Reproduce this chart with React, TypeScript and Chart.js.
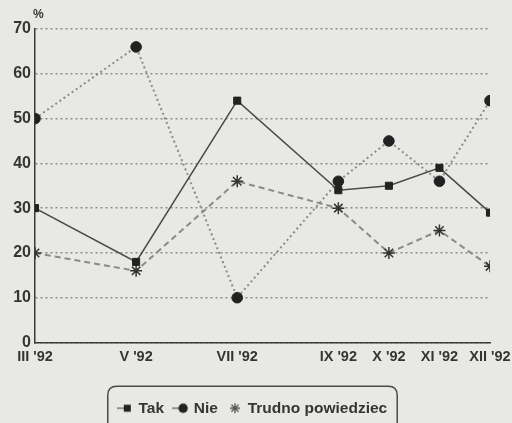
import React, { useEffect, useRef } from "react";
import { Chart, registerables } from "chart.js";

Chart.register(...registerables);

const months = [3, 5, 7, 9, 10, 11, 12];
const monthLabels = ["III '92", "V '92", "VII '92", "IX '92", "X '92", "XI '92", "XII '92"];
const takValues = [30, 18, 54, 34, 35, 39, 29];
const nieValues = [50, 66, 10, 36, 45, 36, 54];
const trudnoValues = [20, 16, 36, 30, 20, 25, 17];
const yTicks = [0, 10, 20, 30, 40, 50, 60, 70];
const seriesLabels = ["Tak", "Nie", "Trudno powiedziec"];

const FONT = "'Liberation Sans', Arial, sans-serif";
const BG = "#e8e8e5";
const TEXT = "#353535";

function legendIcon(kind: string): HTMLCanvasElement {
  const c = document.createElement("canvas");
  c.width = 16;
  c.height = 12;
  const g = c.getContext("2d") as CanvasRenderingContext2D;
  g.strokeStyle = "#777";
  g.lineWidth = 1.5;
  if (kind !== "star") {
    g.beginPath();
    g.moveTo(0, 6);
    g.lineTo(7, 6);
    g.stroke();
  }
  g.fillStyle = "#222";
  if (kind === "rect") {
    g.fillRect(7, 2.5, 7, 7);
  } else if (kind === "circle") {
    g.beginPath();
    g.arc(11, 6, 4.7, 0, Math.PI * 2);
    g.fill();
  } else {
    g.strokeStyle = "#555";
    g.lineWidth = 1.3;
    const cx = 9, cy = 6, r = 5;
    g.beginPath();
    for (let k = 0; k < 4; k++) {
      const a = (k * Math.PI) / 4;
      g.moveTo(cx - r * Math.cos(a), cy - r * Math.sin(a));
      g.lineTo(cx + r * Math.cos(a), cy + r * Math.sin(a));
    }
    g.stroke();
  }
  return c;
}

const LEGEND_SHIFT_LEFT = 16;

const bgPlugin = {
  id: "bgPlugin",
  beforeDraw(chart: any) {
    const ctx = chart.ctx;
    ctx.save();
    ctx.fillStyle = BG;
    ctx.fillRect(0, 0, chart.width, chart.height);
    ctx.restore();
    if (chart.legend) {
      const orig = chart.legend.left;
      chart.legend.left = LEGEND_SHIFT_LEFT;
      chart.$legendShift = (LEGEND_SHIFT_LEFT - orig) / 2;
    }
  },
  afterDraw(chart: any) {
    const ctx = chart.ctx;
    const area = chart.chartArea;
    ctx.save();
    ctx.fillStyle = TEXT;
    ctx.font = `bold 12px ${FONT}`;
    ctx.textAlign = "left";
    ctx.textBaseline = "middle";
    ctx.fillText("%", area.left - 2, area.top - 14);
    const hb = chart.legend && chart.legend.legendHitBoxes;
    if (hb && hb.length) {
      const shift = chart.$legendShift || 0;
      let minX = Infinity, maxX = -Infinity, cy = 0;
      hb.forEach((b: any) => {
        minX = Math.min(minX, b.left);
        maxX = Math.max(maxX, b.left + b.width);
        cy = b.top + b.height / 2;
      });
      const x0 = minX + shift - 11, x1 = maxX + shift + 10, y0 = cy - 22, y1 = cy + 40;
      const r = 9;
      ctx.strokeStyle = "#4a4a4a";
      ctx.lineWidth = 1.5;
      ctx.beginPath();
      ctx.moveTo(x0 + r, y0);
      ctx.lineTo(x1 - r, y0);
      ctx.quadraticCurveTo(x1, y0, x1, y0 + r);
      ctx.lineTo(x1, y1);
      ctx.moveTo(x0, y1);
      ctx.lineTo(x0, y0 + r);
      ctx.quadraticCurveTo(x0, y0, x0 + r, y0);
      ctx.stroke();
    }
    ctx.restore();
  },
};

export default function App() {
  const ref = useRef<HTMLCanvasElement | null>(null);
  useEffect(() => {
    document.body.style.margin = "0";
    document.body.style.background = BG;
    if (!ref.current) return;
    const mk = (arr: number[]) => months.map((m, i) => ({ x: m, y: arr[i] }));
    const icons = [legendIcon("rect"), legendIcon("circle"), legendIcon("star")];
    const chart = new Chart(ref.current, {
      type: "line",
      data: {
        datasets: [
          {
            label: seriesLabels[0],
            data: mk(takValues),
            borderColor: "#4a4a4a",
            borderWidth: 1.5,
            pointStyle: "rect",
            pointRadius: 5,
            pointBackgroundColor: "#222",
            pointBorderColor: "#222",
            pointBorderWidth: 1,
            backgroundColor: "#222",
          },
          {
            label: seriesLabels[1],
            data: mk(nieValues),
            borderColor: "#8a8a8a",
            borderWidth: 2,
            borderDash: [2, 3],
            pointStyle: "circle",
            pointRadius: 5.3,
            pointBackgroundColor: "#222",
            pointBorderColor: "#222",
            pointBorderWidth: 1,
            backgroundColor: "#222",
          },
          {
            label: seriesLabels[2],
            data: mk(trudnoValues),
            borderColor: "#8a8a8a",
            borderWidth: 2,
            borderDash: [6, 4],
            pointStyle: "star",
            pointRadius: 6,
            pointBackgroundColor: "#333",
            pointBorderColor: "#333",
            pointBorderWidth: 1.5,
            backgroundColor: "#333",
          },
        ],
      },
      options: {
        animation: false,
        responsive: false,
        layout: { padding: { top: 29, right: 22, left: 0, bottom: -3 } },
        scales: {
          x: {
            type: "linear",
            min: 3,
            max: 12,
            afterBuildTicks: (s: any) => {
              s.ticks = months.map((m) => ({ value: m }));
            },
            afterFit: (s: any) => {
              s.height = 48;
              s.paddingRight = 0;
              s.paddingLeft = 0;
            },
            ticks: {
              padding: 6,
              autoSkip: false,
              maxRotation: 0,
              color: TEXT,
              font: { family: FONT, size: 14.5, weight: "bold" },
              callback: (v: any) => {
                const i = months.indexOf(Number(v));
                return i >= 0 ? monthLabels[i] : "";
              },
            },
            grid: { display: false, drawTicks: false },
            border: { display: true, color: "#3a3a3a", width: 1.5 },
          },
          y: {
            min: 0,
            max: 70,
            afterBuildTicks: (s: any) => {
              s.ticks = yTicks.map((v) => ({ value: v }));
            },
            afterFit: (s: any) => {
              s.width = 35;
            },
            ticks: {
              padding: 4,
              color: TEXT,
              font: { family: FONT, size: 16, weight: "bold" },
            },
            grid: {
              drawTicks: false,
              color: "#8a8a8a",
              lineWidth: 1.5,
            },
            border: { display: true, color: "#3a3a3a", width: 1.5, dash: [2, 3] },
          },
        },
        plugins: {
          legend: {
            position: "bottom",
            labels: {
              usePointStyle: true,
              padding: 10,
              boxWidth: 12,
              boxHeight: 12,
              color: TEXT,
              font: { family: FONT, size: 15.5, weight: "bold" },
              generateLabels: (ch: any) =>
                ch.data.datasets.map((ds: any, i: number) => ({
                  text: ds.label,
                  fillStyle: "#222",
                  strokeStyle: "#222",
                  fontColor: TEXT,
                  lineWidth: 0,
                  pointStyle: icons[i],
                  hidden: false,
                  datasetIndex: i,
                })),
            },
          },
          tooltip: { enabled: false },
        },
      } as any,
      plugins: [bgPlugin],
    });
    return () => chart.destroy();
  }, []);
  return (
    <div style={{ position: "absolute", left: 0, top: 0, width: 512, height: 423, background: BG }}>
      <canvas ref={ref} width={512} height={423} style={{ display: "block" }} />
    </div>
  );
}
